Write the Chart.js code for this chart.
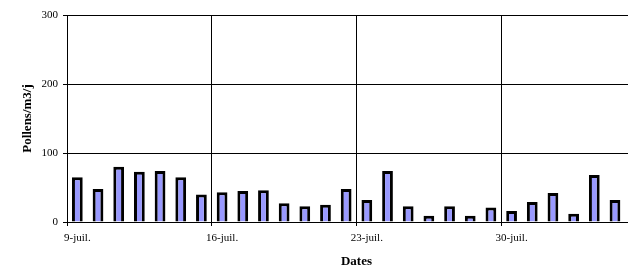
<!DOCTYPE html>
<html>
<head>
<meta charset="utf-8">
<script src="https://cdn.jsdelivr.net/npm/chart.js@4"></script>
<style>
  html, body { margin: 0; padding: 0; background: #fff; overflow: hidden; }
  #wrap { width: 646px; height: 265px; }
</style>
</head>
<body>
<div id="wrap"><canvas id="pollenChart" width="646" height="265"></canvas></div>
<script>
// daily pollen counts, 9 July -> 5 August (last day falls outside the frame)
const dates = [
  "9-juil.", "10-juil.", "11-juil.", "12-juil.", "13-juil.", "14-juil.", "15-juil.",
  "16-juil.", "17-juil.", "18-juil.", "19-juil.", "20-juil.", "21-juil.", "22-juil.",
  "23-juil.", "24-juil.", "25-juil.", "26-juil.", "27-juil.", "28-juil.", "29-juil.",
  "30-juil.", "31-juil.", "1-août", "2-août", "3-août", "4-août", "5-août"
];
const pollens = [
  65, 48, 80, 73, 74, 65, 40,
  43, 45, 46, 27, 23, 25, 48,
  32, 74, 23, 9, 23, 9, 21,
  16, 29, 42, 12, 68, 32, null
];
const yTicks = [0, 100, 200, 300];

const serif = "'Liberation Serif', 'Times New Roman', serif";

function drawPollenChart() {
  const ctx = document.getElementById("pollenChart").getContext("2d");

  new Chart(ctx, {
    type: "bar",
    data: {
      labels: dates,
      datasets: [
        {
          label: "Pollens/m3/j",
          data: pollens,
          backgroundColor: "#9999ff",
          borderColor: "#000000",
          borderWidth: 3,
          borderSkipped: "bottom",
          barPercentage: 0.52,
          categoryPercentage: 1
        }
      ]
    },
    options: {
      responsive: false,
      animation: false,
      layout: { padding: { top: 15, right: 0, left: 0, bottom: 0 } },
      plugins: {
        legend: { display: false },
        tooltip: { enabled: false }
      },
      scales: {
        x: {
          offset: true,
          grid: {
            offset: true,
            color: c => (c.index % 7 === 0 ? "#000000" : "rgba(0,0,0,0)"),
            lineWidth: 1,
            tickLength: 4
          },
          border: { color: "#000000", width: 1 },
          ticks: {
            autoSkip: false,
            maxRotation: 0,
            color: "#000000",
            padding: 6,
            font: { family: serif, size: 11 },
            callback: (v, i) => (i % 7 === 0 ? dates[i] : "")
          },
          title: {
            display: true,
            text: "Dates",
            color: "#000000",
            font: { family: serif, size: 13, weight: "bold" },
            padding: { top: 0, bottom: -4 }
          },
          afterFit: scale => { scale.height = 43; }
        },
        y: {
          min: 0,
          max: 300,
          afterBuildTicks: scale => { scale.ticks = yTicks.map(v => ({ value: v })); },
          grid: { color: "#000000", lineWidth: 1, tickLength: 4 },
          border: { color: "#000000", width: 1 },
          ticks: {
            color: "#000000",
            padding: 5,
            font: { family: serif, size: 11 }
          },
          title: {
            display: true,
            text: "Pollens/m3/j",
            color: "#000000",
            font: { family: serif, size: 13, weight: "bold" },
            padding: { top: 20, bottom: 0 }
          },
          afterFit: scale => { scale.width = 67; }
        }
      }
    }
  });
}

drawPollenChart();
</script>
</body>
</html>
